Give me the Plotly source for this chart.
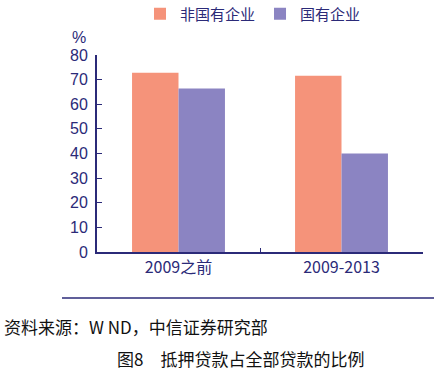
import plotly.graph_objects as go

categories = ["2009之前", "2009-2013"]
non_soe = [72.8, 71.6]
soe = [66.4, 40.0]
series_names = ["非国有企业", "国有企业"]
y_ticks = [0, 10, 20, 30, 40, 50, 60, 70, 80]

NAVY = "#2B2A78"
ORANGE = "#F5937A"
PURPLE = "#8B84C2"
FONT = "Liberation Sans, Arial, Noto Sans CJK SC, sans-serif"
CJK = "Noto Sans CJK SC, sans-serif"

fig = go.Figure()
fig.add_trace(go.Bar(x=categories, y=non_soe, name=series_names[0],
                     marker=dict(color=ORANGE, line=dict(width=0))))
fig.add_trace(go.Bar(x=categories, y=soe, name=series_names[1],
                     marker=dict(color=PURPLE, line=dict(width=0))))

fig.update_layout(
    width=434, height=379,
    margin=dict(l=97, r=11, t=55, b=127, autoexpand=False),
    paper_bgcolor="white", plot_bgcolor="white",
    barmode="group", bargap=0.43, bargroupgap=0,
    font=dict(family=FONT, size=15, color=NAVY),
    showlegend=True,
    legend=dict(orientation="h", x=140/434, xanchor="left",
                y=1 - 14/379, yanchor="middle",
                yref="container", xref="container",
                font=dict(family=CJK, size=15, color=NAVY),
                itemwidth=30, tracegroupgap=0, bgcolor="rgba(0,0,0,0)"),
    xaxis=dict(showline=True, linecolor=NAVY, linewidth=2, showgrid=False,
               ticks="inside", tickson="boundaries", ticklen=4, tickcolor=NAVY,
               tickfont=dict(family=CJK, size=16, color=NAVY), zeroline=False),
    yaxis=dict(range=[0, 80], tickvals=y_ticks, showline=True, linecolor=NAVY,
               linewidth=2, showgrid=False, ticks="inside", ticklen=5,
               tickcolor=NAVY, tickfont=dict(family=FONT, size=16, color=NAVY),
               zeroline=False, ticklabelstandoff=4),
)

fig.add_annotation(text="%", x=-9/326, y=1.0, xref="paper", yref="paper",
                   xanchor="right", yanchor="middle", yshift=18, showarrow=False,
                   font=dict(family=FONT, size=16, color=NAVY))

fig.add_shape(type="line", xref="paper", yref="paper",
              x0=-35/326, x1=337/326, y0=-46/197.5, y1=-46/197.5,
              line=dict(color=NAVY, width=1.5))
fig.add_annotation(text="资料来源：W ND，中信证券研究部", xref="paper", yref="paper",
                   x=-95/326, y=-75/197.5, xanchor="left", yanchor="middle",
                   showarrow=False, font=dict(family=CJK, size=17, color="#111111"))
fig.add_annotation(text="图8　抵押贷款占全部贷款的比例", xref="paper", yref="paper",
                   x=143/326, y=-107/197.5, xanchor="center", yanchor="middle",
                   showarrow=False, font=dict(family=CJK, size=17, color="#111111"))

fig.write_html("out.html", config={"displayModeBar": False},
               post_script="document.body.style.margin='0';")
